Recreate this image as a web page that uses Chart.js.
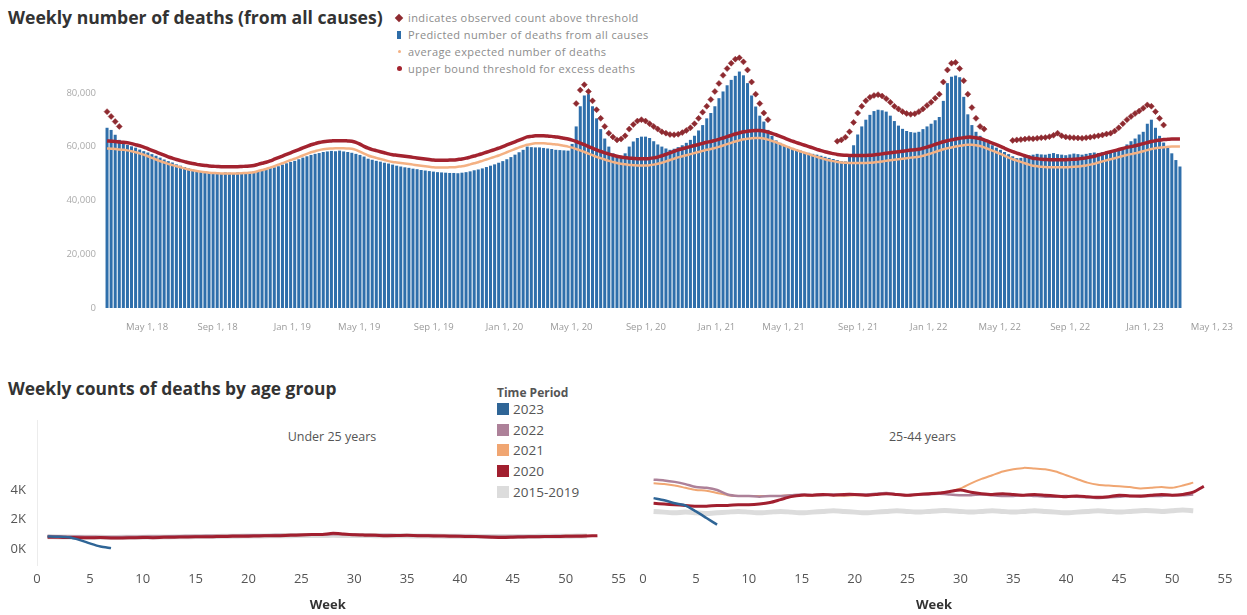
<!DOCTYPE html>
<html><head><meta charset="utf-8">
<script src="https://cdn.jsdelivr.net/npm/chart.js@4/dist/chart.umd.min.js"></script>
<style>
body{margin:0;width:1247px;height:615px;background:#fff;position:relative;overflow:hidden;font-family:"Open Sans",sans-serif;}
.abs{position:absolute;white-space:nowrap;}
.t1{font-weight:700;color:#333;}
.lg{font-size:11px;letter-spacing:0.4px;color:#8c8c8c;line-height:12px;}
.tp{font-size:13.5px;color:#555;line-height:16px;}
.sq{position:absolute;width:12px;height:12px;}
canvas{position:absolute;}
</style></head><body>
<div class="abs t1" style="left:8px;top:5px;font-size:17.6px;">Weekly number of deaths (from all causes)</div>
<div class="abs" style="left:396px;top:15px;width:6px;height:6px;background:#8e2a30;transform:rotate(45deg);"></div>
<div class="abs lg" style="left:408px;top:12px;">indicates observed count above threshold</div>
<div class="abs" style="left:397px;top:31px;width:4px;height:8px;background:#2e6da8;"></div>
<div class="abs lg" style="left:408px;top:29px;">Predicted number of deaths from all causes</div>
<div class="abs" style="left:398px;top:50px;width:3px;height:3px;border-radius:50%;background:#f4b183;"></div>
<div class="abs lg" style="left:408px;top:46px;">average expected number of deaths</div>
<div class="abs" style="left:397px;top:66px;width:5px;height:5px;border-radius:50%;background:#a3232f;"></div>
<div class="abs lg" style="left:408px;top:63px;">upper bound threshold for excess deaths</div>

<canvas id="c1" width="1247" height="345" style="left:0;top:0;"></canvas>

<div class="abs t1" style="left:8px;top:376px;font-size:17.4px;">Weekly counts of deaths by age group</div>
<div class="abs" style="left:497px;top:384px;font-size:12px;font-weight:700;color:#555;">Time Period</div>
<div id="legend2"></div>
<div class="abs" style="left:0;top:428px;width:632px;text-align:center;font-size:12.5px;color:#555;"><span style="position:relative;left:16px">Under 25 years</span></div>
<div class="abs" style="left:632px;top:428px;width:615px;text-align:center;font-size:12.5px;color:#555;"><span style="position:relative;left:-17px">25-44 years</span></div>
<canvas id="c2" width="632" height="215" style="left:0;top:400px;"></canvas>
<canvas id="c3" width="615" height="215" style="left:632px;top:400px;"></canvas>

<script>
// ---------- Top chart data ----------
const firstWeekEnding = '2018-01-20';
const totalWeeksOnAxis = 277;

const observed = [
67000,66200,64400,62500,61500,60600,60100,59600,58900,58300,
57800,57200,56600,55900,55200,54600,54100,53400,52900,52400,
51900,51500,51200,50900,50800,50500,50400,50300,50200,50400,
50300,50200,50400,50300,50500,50600,50800,51000,51100,51500,
52000,52300,52700,53300,53800,54300,54700,55300,55900,56400,
56900,57300,57600,58000,58200,58400,58300,58500,58200,58000,
57700,57300,56900,56300,55500,55100,54700,54400,54000,53700,
53300,52900,52600,52300,52100,51800,51600,51300,51100,50900,
50700,50500,50400,50300,50200,50200,50100,50300,50500,50800,
51200,51500,51900,52400,52900,53400,54000,54600,55300,56100,
57000,57900,58800,60000,59800,59700,59700,59500,59300,59100,
58800,58700,58600,58500,61000,67500,75000,79000,79500,75000,
70500,66500,63000,60000,57500,56300,56000,57500,60000,61900,
63200,63700,63700,63200,62000,60800,60000,59300,58800,59200,
59800,60500,61400,62500,64000,66000,68000,70500,72500,75000,
78000,80500,82800,84800,86300,87900,86500,83600,79000,74900,
71500,69300,66200,64000,62300,61400,60600,60000,59500,59000,
58500,58000,57700,57300,57000,56600,56200,55800,55400,55000,
54600,54500,57000,60500,64500,67500,70000,71800,73200,73700,
73500,73000,71500,69500,67800,66600,65800,65400,65200,65500,
66500,67500,68500,69800,71000,77000,83600,86000,86400,85800,
78500,72000,68000,65500,64000,62500,61500,60500,59600,58800,
58000,57200,56400,55700,55800,56300,56800,57000,57300,57100,
57000,57300,57600,57200,57000,56800,57100,57400,57200,57000,
57300,57600,57800,57600,57900,58200,58400,58600,59000,59800,
60800,62000,63000,64500,65500,68500,70000,67000,64000,61500,
59500,57500,55000,52600];

const threshold = [
62100,62000,61900,61700,61600,61400,61100,60700,60300,59800,
59200,58600,58000,57400,56800,56200,55700,55200,54800,54400,
54000,53700,53400,53200,53000,52800,52700,52600,52500,52500,
52500,52500,52500,52600,52700,52800,53000,53400,53800,54200,
54700,55300,55900,56500,57100,57700,58300,58900,59500,60100,
60700,61100,61500,61800,62000,62100,62200,62200,62200,62100,
62000,61600,60900,60100,59400,58900,58500,58100,57700,57300,
57000,56800,56600,56400,56200,56000,55800,55600,55400,55200,
55000,54900,54900,54900,55000,55000,55200,55400,55700,56100,
56500,56900,57400,57900,58400,58900,59400,60000,60600,61200,
61800,62400,63000,63600,63800,64000,64000,64000,63900,63800,
63600,63400,63100,62800,62400,61900,61300,60700,60000,59400,
58800,58200,57700,57200,56800,56400,56100,55900,55700,55600,
55500,55500,55500,55600,55800,56100,56600,57100,57700,58200,
58800,59200,59600,60000,60400,60800,61200,61600,61900,62300,
62700,63200,63700,64200,64700,65100,65500,65700,65900,66000,
66000,65800,65400,64900,64400,63800,63200,62600,62000,61500,
61000,60500,60000,59500,59000,58500,58100,57700,57400,57100,
56900,56800,56700,56700,56700,56700,56700,56800,56900,57100,
57300,57500,57700,57900,58100,58300,58500,58700,58800,59000,
59400,59800,60300,60800,61300,61800,62200,62500,62800,63100,
63300,63500,63500,63300,63000,62500,61900,61300,60700,60100,
59400,58700,58100,57600,57100,56600,56100,55700,55500,55300,
55200,55100,55100,55100,55100,55100,55200,55300,55400,55600,
55800,56100,56400,56900,57300,57700,58100,58500,58900,59300,
59700,60000,60300,60700,61100,61500,61900,62200,62400,62600,
62700,62800,62800,62800];

const expected = [
59300,59200,59100,58900,58800,58600,58300,57900,57500,57000,
56400,55800,55200,54600,54100,53600,53100,52700,52300,51900,
51500,51200,50900,50700,50500,50300,50200,50100,50000,50000,
50000,50000,50000,50100,50200,50300,50500,50900,51300,51700,
52200,52700,53300,53800,54400,55000,55500,56100,56700,57300,
57900,58300,58700,59000,59200,59300,59400,59400,59400,59300,
59200,58800,58100,57400,56700,56200,55800,55400,55000,54600,
54300,54100,53900,53700,53500,53300,53100,52900,52700,52500,
52300,52200,52200,52200,52300,52300,52500,52700,53000,53400,
53800,54200,54700,55200,55700,56200,56700,57300,57900,58500,
59100,59700,60200,60700,61000,61200,61200,61200,61100,61000,
60800,60600,60300,60000,59600,59100,58600,58000,57400,56800,
56200,55700,55200,54700,54300,53900,53600,53400,53200,53100,
53000,53000,53000,53100,53300,53600,54000,54500,55000,55500,
56000,56400,56800,57200,57600,58000,58400,58800,59100,59500,
59900,60400,60900,61400,61900,62300,62700,62900,63100,63200,
63200,63000,62600,62100,61600,61000,60400,59800,59200,58700,
58200,57700,57200,56700,56200,55700,55300,54900,54600,54300,
54100,54000,53900,53900,53900,53900,53900,54000,54100,54300,
54500,54700,54900,55100,55300,55500,55700,55900,56000,56200,
56600,57000,57500,58000,58500,59000,59400,59700,60000,60300,
60500,60700,60700,60500,60200,59700,59100,58500,57900,57300,
56600,55900,55300,54800,54300,53800,53300,52900,52700,52500,
52400,52300,52300,52300,52300,52300,52400,52500,52600,52800,
53000,53300,53600,54100,54500,54900,55300,55700,56100,56500,
56900,57200,57500,57900,58300,58700,59100,59400,59600,59800,
59900,60000,60000,60000];

// markers "observed count above threshold": runs starting at markerStarts
const markersA = [73000,71200,69300,67500];
const markersB = [76000,81000,83000,80500,77000,73700,70500,67500,65000,63600,62500,62800,64000,66500,68200,69500,70000,69500,68500,67500,66500,65500,65000,64500,64400,64600,65200,66000,67000,68500,70500,72800,75000,77500,80500,83500,86500,89000,91000,92500,93000,91500,88500,84000,79500,76000,72500,70000];
const markersC = [62000,62500,63500,65500,69000,72500,75000,77000,78300,79000,79300,78800,77800,76500,75000,74000,73000,72300,72000,72200,73000,74000,75300,76500,78000,79500,84000,88500,91000,91300,89000,84500,79500,74500,70500,67500,66500];
const markersD = [62300,62500,62600,62800,63000,62900,63100,63300,63400,63700,64200,65000,64000,63600,63400,63300,63200,63100,63300,63500,63800,64000,64300,64700,65000,65800,67000,68500,70000,71200,72300,73200,74300,75500,75000,73000,70500,68000];
const markerStarts = [0,115,179,222];

const yTicksTop = [0,20000,40000,60000,80000];
const xTickDates = ['2018-05-01','2018-09-01','2019-01-01','2019-05-01','2019-09-01','2020-01-01','2020-05-01','2020-09-01','2021-01-01','2021-05-01','2021-09-01','2022-01-01','2022-05-01','2022-09-01','2023-01-01','2023-05-01'];
const xTickLabels = ['May 1, 18','Sep 1, 18','Jan 1, 19','May 1, 19','Sep 1, 19','Jan 1, 20','May 1, 20','Sep 1, 20','Jan 1, 21','May 1, 21','Sep 1, 21','Jan 1, 22','May 1, 22','Sep 1, 22','Jan 1, 23','May 1, 23'];

// ---------- Bottom chart data ----------
const weeks = Array.from({length:53},(_,k)=>k+1);
const timePeriods = ['2023','2022','2021','2020','2015-2019'];
const periodColors = {'2023':'#2f6596','2022':'#ad8199','2021':'#f0a672','2020':'#a11f2f','2015-2019':'#dcdcdc'};

const u25_2020 = [800,790,780,770,760,775,750,745,760,775,770,790,800,815,830,825,840,850,865,870,885,895,905,930,950,975,990,1060,1010,960,940,925,905,910,925,900,890,880,870,860,850,830,800,780,795,815,830,840,850,860,865,880,905];
const u25_2021 = [860,845,830,820,805,800,790,800,815,825,830,845,850,860,875,880,895,905,910,925,935,940,955,960,975,985,990,1010,995,980,965,960,950,945,935,925,910,905,890,880,870,860,850,845,850,860,870,875,880,890,900,915];
const u25_2022 = [880,860,850,840,830,820,810,820,830,840,845,855,865,875,880,890,900,905,915,925,930,940,950,960,965,975,985,1000,990,975,965,955,950,940,930,925,915,905,895,885,875,865,855,850,855,860,865,870,875,885,890,900];
const u25_2023 = [850,830,790,620,380,170,60];
const u25_base = [830,820,810,800,795,790,785,790,795,800,810,815,825,830,840,850,855,865,870,880,885,890,900,905,910,915,920,925,920,915,910,905,900,895,890,885,880,875,870,865,860,855,850,845,845,850,855,860,865,870,875,880];

const a2544_2020 = [3100,3050,3000,2950,2900,2900,2950,2950,3000,3000,3050,3150,3350,3550,3650,3650,3700,3650,3700,3700,3650,3700,3750,3700,3650,3700,3750,3800,3900,4000,3850,3750,3700,3750,3700,3650,3700,3650,3600,3550,3600,3550,3500,3550,3650,3600,3600,3650,3700,3650,3700,3850,4250];
const a2544_2021 = [4450,4400,4300,4150,4000,3950,3800,3650,3600,3600,3600,3600,3600,3650,3650,3600,3650,3650,3600,3650,3650,3700,3750,3700,3650,3700,3750,3800,3900,4100,4450,4750,5000,5250,5400,5500,5450,5400,5250,5000,4750,4500,4350,4300,4250,4200,4100,4150,4200,4150,4300,4500];
const a2544_2022 = [4700,4650,4550,4400,4200,4150,4000,3700,3600,3600,3550,3600,3600,3650,3700,3650,3650,3700,3650,3700,3700,3750,3800,3700,3650,3700,3700,3750,3700,3650,3650,3700,3650,3600,3600,3650,3600,3550,3550,3600,3550,3500,3450,3500,3550,3600,3550,3600,3600,3650,3650,3700];
const a2544_2023 = [3450,3300,3100,2950,2550,2100,1650];
const a2544_base = [2550,2500,2450,2500,2450,2400,2450,2500,2550,2500,2450,2500,2550,2500,2450,2500,2550,2600,2550,2500,2450,2500,2550,2600,2550,2500,2550,2600,2600,2550,2500,2550,2600,2550,2500,2550,2600,2550,2500,2450,2500,2550,2600,2550,2500,2550,2600,2600,2550,2600,2650,2600];

const xTicksBottom = [0,5,10,15,20,25,30,35,40,45,50,55];
const yTicksBottom = [0,2000,4000];

// ---------- build ----------
Chart.defaults.font.family = '"Open Sans", sans-serif';
Chart.defaults.animation = false;

const DAY = 86400000;
const t0 = Date.parse(firstWeekEnding + 'T00:00:00Z');
const weekLabels = Array.from({length: totalWeeksOnAxis}, (_, i) => new Date(t0 + i*7*DAY).toISOString().slice(0,10));
const xTickIdx = xTickDates.map(d => weekLabels.findIndex(w => w >= d));

const markerData = observed.map(() => null);
[markersA, markersB, markersC, markersD].forEach((arr, r) => arr.forEach((v, k) => { markerData[markerStarts[r] + k] = v; }));

new Chart(document.getElementById('c1'), {
  data: {
    labels: weekLabels,
    datasets: [
      {type:'line', label:'indicates observed count above threshold', data: markerData, showLine:false,
       pointStyle:'rectRot', pointRadius:3, pointBackgroundColor:'#8e2a30', pointBorderColor:'#8e2a30', pointBorderWidth:0.5, order:0},
      {type:'line', label:'upper bound threshold for excess deaths', data: threshold, borderColor:'#a3232f', borderWidth:3.5,
       pointRadius:0, tension:0.3, order:1},
      {type:'line', label:'average expected number of deaths', data: expected, borderColor:'#f4b183', borderWidth:2.5,
       pointRadius:0, tension:0.3, order:2},
      {type:'bar', label:'Predicted number of deaths from all causes', data: observed, backgroundColor:'#2f6fab',
       barPercentage:0.74, categoryPercentage:1.0, order:3}
    ]
  },
  options: {
    responsive:false,
    layout:{padding:{left:0,right:7,top:39,bottom:0}},
    plugins:{legend:{display:false}, tooltip:{enabled:false}},
    scales:{
      x:{type:'category', offset:true,
         grid:{display:false, drawTicks:false}, border:{display:false},
         afterBuildTicks:(s)=>{ s.ticks = xTickIdx.map(i=>({value:i})); },
         afterFit:(s)=>{ s.height = 37; },
         ticks:{autoSkip:false, maxRotation:0, minRotation:0, align:'end', padding:14,
                font:{size:9.5}, color:'#9a9a9a',
                callback:(v)=> xTickLabels[xTickIdx.indexOf(v)]}},
      y:{min:0, max:100000,
         grid:{display:false, drawTicks:false}, border:{display:false},
         afterBuildTicks:(s)=>{ s.ticks = yTicksTop.map(v=>({value:v})); },
         afterFit:(s)=>{ s.width = 105; },
         ticks:{padding:9, font:{size:9.5}, color:'#ababab',
                callback:(v)=> v.toLocaleString('en-US')}}
    }
  }
});

function pts(arr){ return arr.map((v,k)=>({x: weeks[k], y: v})); }
function lineDs(label, arr, width){
  return {label, data: pts(arr), borderColor: periodColors[label], borderWidth: width, pointRadius:0, tension:0.25, fill:false};
}
function bottomChart(id, series, showY, padL, padR){
  return new Chart(document.getElementById(id), {
    type:'line',
    data:{ datasets:[
      lineDs('2023', series[0], 2.5),
      lineDs('2020', series[3], 3),
      lineDs('2022', series[1], 2.5),
      lineDs('2021', series[2], 2),
      lineDs('2015-2019', series[4], 5)
    ]},
    options:{
      responsive:false,
      layout:{padding:{left:padL, right:padR, top:20, bottom:0}},
      plugins:{legend:{display:false}, tooltip:{enabled:false}},
      scales:{
        x:{type:'linear', min:0, max:55,
           grid:{display:false, drawTicks:false}, border:{display:false},
           afterBuildTicks:(s)=>{ s.ticks = xTicksBottom.map(v=>({value:v})); },
           afterFit:(s)=>{ s.height = 50; },
           ticks:{padding:6, font:{size:13}, color:'#555', autoSkip:false, maxRotation:0},
           title:{display:true, text:'Week', font:{size:13, weight:'bold'}, color:'#333', padding:{top:0,bottom:2}}},
        y:{min:-1085, max:8746, display:showY,
           grid:{display:false, drawTicks:false}, border:{display:true, color:'#ececec'},
           afterBuildTicks:(s)=>{ s.ticks = yTicksBottom.map(v=>({value:v})); },
           afterFit:(s)=>{ s.width = showY ? 37 : 0; },
           ticks:{padding:11, font:{size:13}, color:'#555', callback:(v)=> (v/1000)+'K'}}
      }
    }
  });
}
bottomChart('c2', [u25_2023, u25_2022, u25_2021, u25_2020, u25_base], true, 0, 10);
bottomChart('c3', [a2544_2023, a2544_2022, a2544_2021, a2544_2020, a2544_base], false, 11, 22);

// legend for time period
const lg = document.getElementById('legend2');
timePeriods.forEach((p, k) => {
  const y = 403 + k*20.7;
  const sq = document.createElement('div');
  sq.className = 'sq'; sq.style.left = '497px'; sq.style.top = y + 'px'; sq.style.background = periodColors[p];
  const tx = document.createElement('div');
  tx.className = 'abs tp'; tx.style.left = '513px'; tx.style.top = (y - 2) + 'px'; tx.textContent = p;
  lg.appendChild(sq); lg.appendChild(tx);
});
</script>
</body></html>
